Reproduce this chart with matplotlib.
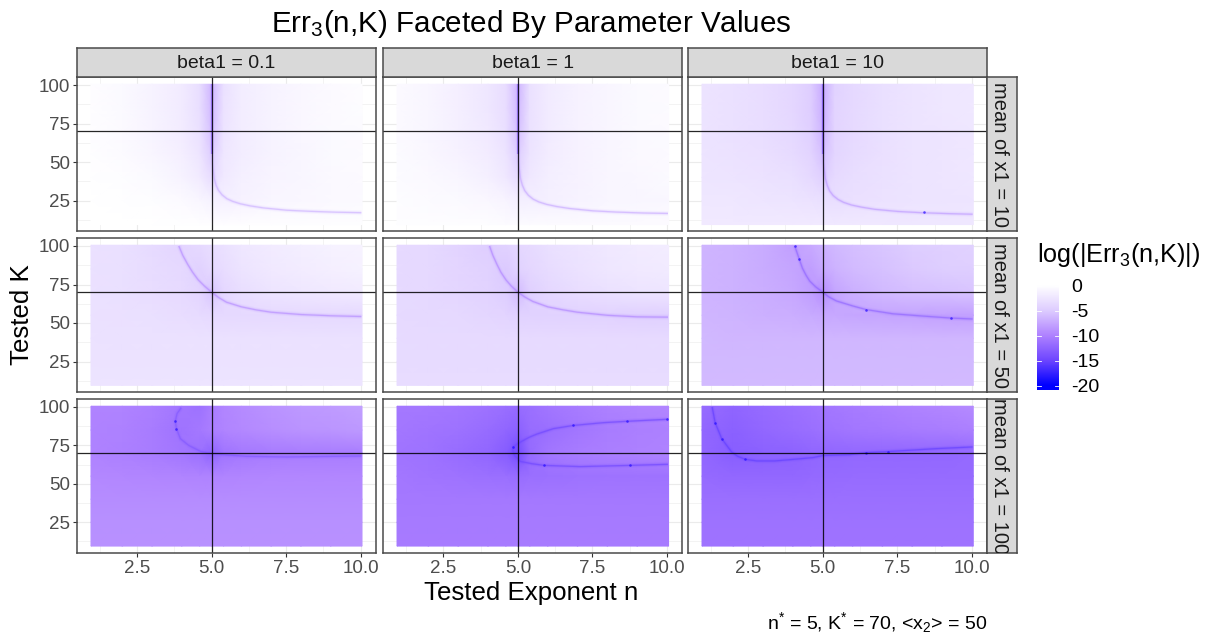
import numpy as np
import matplotlib
matplotlib.use("Agg")
import matplotlib.pyplot as plt
from matplotlib.colors import LinearSegmentedColormap, Normalize
from matplotlib.ticker import FormatStrFormatter

plt.rcParams['font.family'] = ['Liberation Sans', 'DejaVu Sans']
plt.rcParams['mathtext.fontset'] = 'custom'
plt.rcParams['mathtext.rm'] = 'Liberation Sans'
plt.rcParams['mathtext.it'] = 'Liberation Sans'
plt.rcParams['mathtext.default'] = 'regular'
plt.rcParams['axes.unicode_minus'] = False

beta_labels = ['beta1 = 0.1', 'beta1 = 1', 'beta1 = 10']
mean_labels = ['mean of x1 = 10', 'mean of x1 = 50', 'mean of x1 = 100']
n_nodes = [0.95, 2, 3, 4, 4.6, 5, 5.4, 6, 7, 8, 9, 10.05]
K_nodes = [100.5, 85, 70, 55, 40, 25, 9.5]
legend_values = [0, -5, -10, -15, -20]
true_n = 5
true_K = 70

# log(|Err3|) read per panel: rows follow K_nodes, columns follow n_nodes
grid_10_01 = [
    [-0.2, -0.6, -1.2, -2.0, -3.3, -6.5, -3.0, -1.8, -1.2, -0.8, -0.5, -0.3],
    [-0.2, -0.6, -1.2, -2.0, -3.3, -6.3, -2.9, -1.8, -1.2, -0.8, -0.5, -0.3],
    [-0.2, -0.5, -1.1, -1.9, -3.0, -5.8, -2.7, -1.8, -1.2, -0.8, -0.6, -0.4],
    [-0.1, -0.4, -0.9, -1.6, -2.6, -5.0, -2.5, -1.8, -1.2, -0.9, -0.6, -0.4],
    [-0.1, -0.3, -0.6, -1.2, -2.1, -3.5, -2.2, -1.5, -1.1, -0.9, -0.7, -0.5],
    [0.0, -0.1, -0.3, -0.5, -0.9, -1.4, -1.5, -1.3, -1.0, -0.8, -0.7, -0.6],
    [0.0, 0.0, 0.0, -0.1, -0.1, -0.2, -0.2, -0.2, -0.2, -0.3, -0.3, -0.3],
]
grid_10_1 = [
    [-0.5, -1.0, -1.6, -2.4, -3.4, -6.5, -3.0, -2.0, -1.3, -0.9, -0.6, -0.4],
    [-0.5, -1.0, -1.6, -2.4, -3.4, -6.3, -3.0, -2.0, -1.3, -0.9, -0.6, -0.4],
    [-0.5, -0.9, -1.5, -2.2, -3.2, -5.8, -2.9, -2.0, -1.3, -0.9, -0.7, -0.5],
    [-0.4, -0.8, -1.3, -1.9, -2.8, -5.0, -2.7, -1.9, -1.3, -1.0, -0.7, -0.5],
    [-0.4, -0.7, -1.0, -1.5, -2.3, -3.6, -2.3, -1.7, -1.3, -1.0, -0.8, -0.6],
    [-0.3, -0.4, -0.6, -0.8, -1.1, -1.6, -1.7, -1.5, -1.2, -1.0, -0.9, -0.8],
    [-0.3, -0.3, -0.3, -0.3, -0.4, -0.4, -0.4, -0.4, -0.5, -0.5, -0.5, -0.5],
]
grid_10_10 = [
    [-2.8, -3.0, -3.4, -4.0, -4.9, -7.2, -4.4, -3.8, -3.2, -2.8, -2.5, -2.3],
    [-2.8, -3.0, -3.4, -4.0, -4.9, -7.0, -4.3, -3.8, -3.2, -2.8, -2.5, -2.3],
    [-2.8, -3.0, -3.3, -3.9, -4.7, -6.6, -4.2, -3.7, -3.2, -2.8, -2.6, -2.4],
    [-2.7, -2.9, -3.1, -3.6, -4.3, -5.8, -4.1, -3.6, -3.1, -2.8, -2.6, -2.4],
    [-2.6, -2.7, -2.9, -3.2, -3.8, -4.7, -3.7, -3.3, -3.0, -2.8, -2.6, -2.5],
    [-2.4, -2.5, -2.6, -2.7, -2.9, -3.2, -3.3, -3.1, -2.9, -2.8, -2.7, -2.6],
    [-2.2, -2.2, -2.2, -2.2, -2.2, -2.2, -2.3, -2.3, -2.3, -2.4, -2.4, -2.4],
]
grid_50_01 = [
    [-3.0, -3.2, -3.6, -4.2, -3.8, -3.3, -3.0, -2.5, -2.0, -1.7, -1.4, -1.2],
    [-3.0, -3.2, -3.5, -3.9, -4.5, -3.9, -3.4, -2.8, -2.2, -1.9, -1.6, -1.4],
    [-3.0, -3.2, -3.4, -3.7, -4.2, -5.5, -4.0, -3.3, -2.8, -2.4, -2.2, -2.0],
    [-3.0, -3.1, -3.2, -3.4, -3.6, -3.8, -3.8, -3.8, -3.8, -3.9, -3.9, -3.9],
    [-2.9, -3.0, -3.0, -3.0, -3.0, -3.0, -3.0, -3.0, -3.0, -3.0, -3.0, -3.0],
    [-2.9, -2.9, -2.9, -2.9, -2.9, -2.9, -2.9, -2.9, -2.9, -2.9, -2.9, -2.9],
    [-2.8, -2.8, -2.8, -2.8, -2.8, -2.8, -2.8, -2.8, -2.8, -2.8, -2.8, -2.8],
]
grid_50_1 = [
    [-3.7, -3.9, -4.3, -4.9, -4.5, -4.0, -3.7, -3.2, -2.7, -2.3, -2.0, -1.8],
    [-3.7, -3.9, -4.2, -4.6, -5.2, -4.5, -4.0, -3.5, -2.9, -2.5, -2.2, -2.0],
    [-3.7, -3.9, -4.1, -4.4, -5.0, -6.2, -4.7, -4.0, -3.4, -3.0, -2.8, -2.6],
    [-3.7, -3.8, -3.9, -4.1, -4.3, -4.5, -4.5, -4.5, -4.6, -4.6, -4.7, -4.7],
    [-3.6, -3.7, -3.7, -3.7, -3.7, -3.7, -3.7, -3.7, -3.7, -3.7, -3.7, -3.7],
    [-3.6, -3.6, -3.6, -3.6, -3.6, -3.6, -3.6, -3.6, -3.6, -3.6, -3.6, -3.6],
    [-3.5, -3.5, -3.5, -3.5, -3.5, -3.5, -3.5, -3.5, -3.5, -3.5, -3.5, -3.5],
]
grid_50_10 = [
    [-6.6, -6.8, -7.2, -8.0, -7.4, -6.8, -6.4, -6.0, -5.5, -5.0, -4.7, -4.5],
    [-6.6, -6.8, -7.2, -7.7, -8.2, -7.4, -6.8, -6.3, -5.8, -5.3, -5.0, -4.8],
    [-6.6, -6.8, -7.1, -7.5, -8.2, -9.2, -7.8, -7.0, -6.4, -6.0, -5.8, -5.6],
    [-6.5, -6.7, -6.9, -7.1, -7.3, -7.5, -7.5, -7.6, -7.7, -7.8, -7.9, -8.0],
    [-6.4, -6.5, -6.5, -6.5, -6.5, -6.5, -6.5, -6.5, -6.5, -6.5, -6.5, -6.5],
    [-6.4, -6.4, -6.4, -6.4, -6.4, -6.4, -6.4, -6.4, -6.4, -6.4, -6.4, -6.4],
    [-6.3, -6.3, -6.3, -6.3, -6.3, -6.3, -6.3, -6.3, -6.3, -6.3, -6.3, -6.3],
]
grid_100_01 = [
    [-10.0, -10.0, -10.3, -11.0, -11.4, -10.4, -9.8, -9.4, -8.9, -8.5, -8.3, -8.0],
    [-10.0, -10.1, -10.5, -11.2, -10.8, -10.3, -9.9, -9.6, -9.2, -8.9, -8.7, -8.5],
    [-10.0, -10.2, -10.5, -11.0, -11.5, -12.5, -11.2, -10.8, -10.6, -10.5, -10.5, -10.4],
    [-9.6, -9.7, -9.8, -9.9, -10.0, -10.0, -9.9, -9.8, -9.7, -9.7, -9.7, -9.7],
    [-9.3, -9.3, -9.3, -9.3, -9.3, -9.3, -9.3, -9.3, -9.3, -9.3, -9.3, -9.3],
    [-9.1, -9.1, -9.1, -9.1, -9.1, -9.1, -9.1, -9.1, -9.1, -9.1, -9.1, -9.1],
    [-9.0, -9.0, -9.0, -9.0, -9.0, -9.0, -9.0, -9.0, -9.0, -9.0, -9.0, -9.0],
]
grid_100_1 = [
    [-10.8, -10.8, -11.0, -11.3, -11.6, -11.8, -11.5, -11.0, -10.5, -10.1, -9.9, -9.7],
    [-10.9, -11.1, -11.4, -11.8, -12.3, -12.8, -11.8, -11.6, -11.0, -10.5, -10.3, -10.1],
    [-11.1, -11.4, -11.8, -12.3, -13.2, -14.5, -12.0, -11.0, -10.5, -10.3, -10.1, -10.0],
    [-10.9, -11.1, -11.3, -11.5, -11.6, -11.8, -11.6, -11.5, -11.4, -11.3, -11.3, -11.3],
    [-10.8, -10.8, -10.8, -10.8, -10.8, -10.8, -10.8, -10.8, -10.8, -10.8, -10.8, -10.8],
    [-10.7, -10.7, -10.7, -10.7, -10.7, -10.7, -10.7, -10.7, -10.7, -10.7, -10.7, -10.7],
    [-10.6, -10.6, -10.6, -10.6, -10.6, -10.6, -10.6, -10.6, -10.6, -10.6, -10.6, -10.6],
]
grid_100_10 = [
    [-11.8, -12.4, -11.9, -11.5, -11.2, -11.0, -10.8, -10.6, -10.3, -10.0, -9.7, -9.4],
    [-12.2, -12.8, -12.2, -11.8, -11.6, -11.4, -11.2, -11.0, -10.8, -10.6, -10.4, -10.2],
    [-12.2, -13.0, -12.8, -12.6, -12.4, -12.3, -12.3, -12.2, -12.2, -12.2, -12.2, -12.0],
    [-12.0, -12.2, -12.2, -12.2, -12.1, -12.0, -12.0, -11.9, -11.9, -11.9, -11.9, -11.9],
    [-11.6, -11.6, -11.6, -11.6, -11.6, -11.6, -11.6, -11.6, -11.6, -11.6, -11.6, -11.6],
    [-11.4, -11.4, -11.4, -11.4, -11.4, -11.4, -11.4, -11.4, -11.4, -11.4, -11.4, -11.4],
    [-11.2, -11.2, -11.2, -11.2, -11.2, -11.2, -11.2, -11.2, -11.2, -11.2, -11.2, -11.2],
]
grids = [[grid_10_01, grid_10_1, grid_10_10],
         [grid_50_01, grid_50_1, grid_50_10],
         [grid_100_01, grid_100_1, grid_100_10]]

# Trough of the error surface, read per panel as (n, K) pairs
top_curve_n = [5.0, 5.0, 5.02, 5.09, 5.15, 5.23, 5.35, 5.51, 5.7, 5.96, 6.3, 6.74, 7.52, 8.3, 9.2, 10.03]
trough_n = {
    (0, 0): top_curve_n, (0, 1): top_curve_n, (0, 2): top_curve_n,
    (1, 0): [3.9, 4.03, 4.2, 4.36, 4.55, 4.76, 5, 5.24, 5.5, 6, 6.5, 7, 8, 9, 10.03],
    (1, 1): [4.05, 4.16, 4.3, 4.43, 4.6, 4.78, 5, 5.24, 5.5, 6, 6.5, 7, 8, 9, 10.03],
    (1, 2): [4.06, 4.21, 4.32, 4.44, 4.56, 4.76, 5, 5.2, 5.46, 6.02, 6.46, 7.35, 8.36, 9.31, 10.03],
    (2, 0): [3.98, 3.84, 3.78, 3.82, 3.95, 4.23, 4.62, 5, 5.51, 6.18, 7.52, 10.03],
    (2, 1): [10.03, 8.67, 7.87, 6.86, 6.19, 5.64, 5.38, 5.19, 4.98, 4.85, 4.83, 4.89, 5.08, 5.47, 5.88, 7.09, 8.76, 10.03],
    (2, 2): [1.29, 1.39, 1.61, 1.94, 2.14, 2.39, 2.78, 3.39, 4.06, 4.68, 5, 5.9, 6.46, 7.19, 7.97, 8.81, 10.03],
}
trough_K = {
    (0, 0): [100, 70, 50, 39.2, 35, 31.7, 28.8, 26.3, 24.6, 23, 21.6, 20.3, 18.8, 18.1, 17.5, 17.2],
    (0, 1): [100, 70, 50, 39.2, 35, 31.5, 28.5, 26, 24.2, 22.6, 21.2, 19.9, 18.4, 17.6, 17, 16.7],
    (0, 2): [100, 70, 50, 39.2, 35, 31.3, 28.3, 25.8, 23.9, 22.2, 20.8, 19.4, 18, 17.2, 16.6, 16.2],
    (1, 0): [100, 94, 88, 83, 78, 74, 70, 66.5, 63.5, 60.5, 58.5, 57, 55.5, 54.7, 54.2],
    (1, 1): [100, 94, 88, 83, 78, 74, 70, 66.8, 64, 60.5, 58.6, 57, 55, 54, 53.8],
    (1, 2): [100, 91.6, 85.5, 81, 77.3, 73.5, 70, 67, 64.3, 61, 58.7, 56, 54.5, 53.2, 52.6],
    (2, 0): [99.6, 95.7, 90.7, 85.9, 79.4, 75, 71.2, 69.6, 68.8, 67.9, 67.5, 68.1],
    (2, 1): [92, 90.7, 89.8, 88, 85.9, 82.4, 80.3, 78.3, 76, 74, 71.8, 68.5, 64.6, 63.1, 62, 61.2, 62, 62.7],
    (2, 2): [100, 89.8, 79.4, 70.8, 68, 66, 64.9, 64.9, 66, 67.1, 68.4, 69, 70.3, 71, 71.9, 72.9, 74],
}
trough_depth = [[-7, -7.5, -8.5], [-9.5, -10, -12.5], [-13.5, -15, -15.5]]

# Dark vertical ridge at the true exponent in the top row
ridge_K = [100.5, 55]
ridge_depth = [-13, -13, -14]

# Darker dots visible along the trough
spot_n = {
    (0, 2): [8.4], (1, 2): [4.06, 4.21, 6.46, 9.31],
    (2, 0): [3.78, 3.82], (2, 1): [4.85, 5.88, 6.86, 8.67, 8.76, 10.0],
    (2, 2): [1.39, 1.61, 2.39, 6.46, 7.19],
}
spot_K = {
    (0, 2): [17.4], (1, 2): [100, 91.6, 58.7, 53.2],
    (2, 0): [90.7, 85.9], (2, 1): [74, 62, 88, 90.7, 62, 92],
    (2, 2): [89.8, 79.4, 66, 70.3, 71],
}

W, H = 1208, 638
fig = plt.figure(figsize=(W / 100, H / 100), dpi=100, facecolor='white')


def px_axes(x0, y0, x1, y1, **kw):
    return fig.add_axes([x0 / W, 1 - y1 / H, (x1 - x0) / W, (y1 - y0) / H], **kw)


cmap = LinearSegmentedColormap.from_list('err', [
    (0.0, (0, 0, 1)),
    (0.25, (110 / 255, 70 / 255, 1)),
    (0.5, (175 / 255, 130 / 255, 1)),
    (0.75, (222 / 255, 205 / 255, 1)),
    (1.0, (1, 1, 1))])
norm = Normalize(-20, 0)

col_x = [(77.3, 375.7), (383.3, 682.3), (688.3, 987)]
row_y = [(77.3, 231.5), (238.3, 392.3), (399.3, 553)]
EDGE = '#4a4a4a'

for r, (y0, y1) in enumerate(row_y):
    for c, (x0, x1) in enumerate(col_x):
        ax = px_axes(x0, y0, x1, y1)
        ax.set_xlim(0.49, 10.51)
        ax.set_ylim(5, 105)
        ax.set_axisbelow(True)
        ax.set_xticks([2.5, 5, 7.5, 10])
        ax.set_xticks([1.25, 3.75, 6.25, 8.75], minor=True)
        ax.set_yticks([25, 50, 75, 100])
        ax.set_yticks([12.5, 37.5, 62.5, 87.5], minor=True)
        ax.grid(which='major', color='#ebebeb', lw=0.8)
        ax.grid(which='minor', color='#ebebeb', lw=0.4)
        ax.pcolormesh(n_nodes, K_nodes, np.array(grids[r][c]), cmap=cmap, norm=norm,
                      shading='gouraud', zorder=1, rasterized=True)
        tn, tk = trough_n[(r, c)], trough_K[(r, c)]
        colour = cmap(norm(trough_depth[r][c]))
        for lw, alpha in [(3.5, 0.08), (2, 0.18), (0.9, 0.6)]:
            ax.plot(tn, tk, color=colour, lw=lw, alpha=alpha, zorder=2,
                    solid_capstyle='butt', solid_joinstyle='round')
        if r == 0:
            ax.plot([true_n, true_n], ridge_K, color=cmap(norm(ridge_depth[c])), lw=1.6,
                    alpha=0.65, zorder=2, solid_capstyle='butt')
        if (r, c) in spot_n:
            ax.scatter(spot_n[(r, c)], spot_K[(r, c)], s=3.5, color=(0.15, 0.05, 1),
                       alpha=0.7, linewidths=0, zorder=2)
        ax.axvline(true_n, color='black', lw=0.9, alpha=0.85, zorder=3)
        ax.axhline(true_K, color='black', lw=0.9, alpha=0.85, zorder=3)
        for s in ax.spines.values():
            s.set_color(EDGE)
            s.set_linewidth(1.1)
            s.set_zorder(5)
        ax.tick_params(which='minor', length=0)
        ax.tick_params(which='major', length=3, width=0.8, color='#333333',
                       labelcolor='#4d4d4d', labelsize=13.5, pad=2)
        ax.tick_params(axis='x', labelbottom=(r == 2), bottom=(r == 2))
        ax.tick_params(axis='y', labelleft=(c == 0), left=(c == 0))
        ax.xaxis.set_major_formatter(FormatStrFormatter('%.1f'))
        if r == 0:
            st = px_axes(x0, 47.5, x1, y0, facecolor='#d9d9d9')
            st.set_xticks([])
            st.set_yticks([])
            for s in st.spines.values():
                s.set_color(EDGE)
                s.set_linewidth(1.1)
            st.text(0.5, 0.47, beta_labels[c], transform=st.transAxes, ha='center',
                    va='center', fontsize=14, color='#1a1a1a')
    st = px_axes(987, y0, 1017, y1, facecolor='#d9d9d9')
    st.set_xticks([])
    st.set_yticks([])
    for s in st.spines.values():
        s.set_color(EDGE)
        s.set_linewidth(1.1)
    st.text(0.43, 0.5, mean_labels[r], transform=st.transAxes, ha='center', va='center',
            rotation=-90, fontsize=14.5, color='#1a1a1a', clip_on=True)

fig.text(531 / W, 1 - 24 / H, r'Err$_3$(n,K) Faceted By Parameter Values',
         ha='center', va='center', fontsize=21.3, color='black')
fig.text(531 / W, 1 - 593 / H, 'Tested Exponent n', ha='center', va='center', fontsize=18.6)
fig.text(22 / W, 1 - 315 / H, 'Tested K', ha='center', va='center', rotation=90, fontsize=18.6)
fig.text(987 / W, 1 - 623 / H, r'n$^{*}$ = 5, K$^{*}$ = 70, <x$_2$> = 50', ha='right',
         va='center', fontsize=14)

# colour legend
leg = px_axes(1037, 285, 1059, 390)
levels = np.linspace(0.2, -20.9, 256).reshape(-1, 1)
leg.imshow(levels, cmap=cmap, norm=norm, aspect='auto', extent=[0, 1, -20.9, 0.2])
for s in leg.spines.values():
    s.set_visible(False)
leg.set_xticks([])
leg.yaxis.tick_right()
leg.set_yticks(legend_values)
leg.tick_params(axis='y', length=0, labelsize=14, pad=9, labelcolor='black')
for v in legend_values:
    leg.plot([0, 0.2], [v, v], color='white', lw=0.6)
    leg.plot([0.8, 1], [v, v], color='white', lw=0.6)
leg.set_xlim(0, 1)
leg.set_ylim(-20.9, 0.2)
fig.text(1037 / W, 1 - 255 / H, r'log(|Err$_3$(n,K)|)', ha='left', va='center', fontsize=18.2)

fig.savefig('out.png', dpi=100, facecolor='white')
